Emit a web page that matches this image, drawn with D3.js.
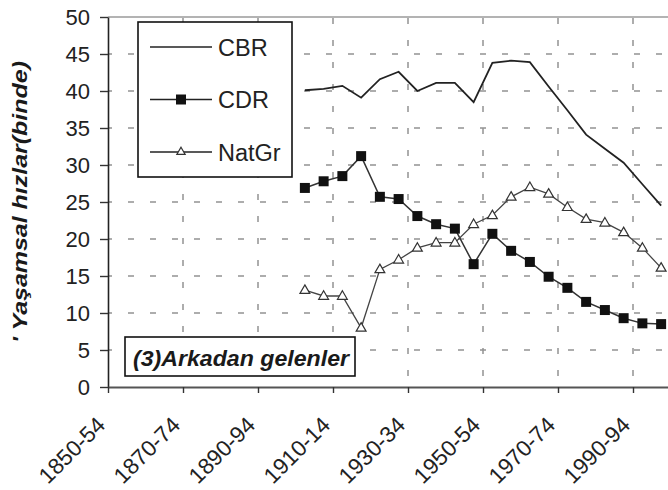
<!DOCTYPE html>
<html>
<head>
<meta charset="utf-8">
<script src="https://cdn.jsdelivr.net/npm/d3@7/dist/d3.min.js"></script>
<style>
  html, body { margin: 0; padding: 0; background: #fff; }
  svg { display: block; font-family: "Liberation Sans", Arial, sans-serif; }
</style>
</head>
<body>
<svg id="chart" width="668" height="490"></svg>
<script>
// ---- data ----
const categories = ["1850-54","1855-59","1860-64","1865-69","1870-74","1875-79","1880-84","1885-89",
  "1890-94","1895-99","1900-04","1905-09","1910-14","1915-19","1920-24","1925-29","1930-34","1935-39",
  "1940-44","1945-49","1950-54","1955-59","1960-64","1965-69","1970-74","1975-79","1980-84","1985-89",
  "1990-94","1995-99"];
const tickLabels = ["1850-54","1870-74","1890-94","1910-14","1930-34","1950-54","1970-74","1990-94"];
const seriesCategories = ["1900-04","1905-09","1910-14","1915-19","1920-24","1925-29","1930-34","1935-39",
  "1940-44","1945-49","1950-54","1955-59","1960-64","1965-69","1970-74","1975-79","1980-84","1985-89",
  "1990-94","1995-99"];
const cbr   = [40.1,40.3,40.7,39.1,41.6,42.6,40.0,41.1,41.1,38.5,43.8,44.1,43.9,40.6,37.4,34.1,32.2,30.3,27.4,24.5];
const cdr   = [26.9,27.8,28.5,31.2,25.7,25.4,23.1,22.0,21.4,16.6,20.7,18.4,16.9,14.9,13.4,11.5,10.4,9.3,8.6,8.5];
const natgr = [13.1,12.3,12.3,8.0,15.9,17.2,18.8,19.5,19.5,22.0,23.2,25.7,27.0,26.1,24.3,22.7,22.2,20.9,18.8,16.1];
const yTicks = [0,5,10,15,20,25,30,35,40,45,50];
const seriesNames = ["CBR","CDR","NatGr"];
const yTitle = "' Yaşamsal hızlar(binde)";
const noteText = "(3)Arkadan gelenler";

// ---- layout ----
const pLeft = 108, pTop = 17, pBottom = 387, pRight = 670.5;
const svg = d3.select("#chart");
const x = d3.scaleLinear().domain([0, categories.length]).range([pLeft, pRight]);
const y = d3.scaleLinear().domain([0, 50]).range([pBottom, pTop]);
const px = c => x(categories.indexOf(c) + 0.5);
const tickIdx = tickLabels.map(l => categories.indexOf(l));

// gridlines
const grid = svg.append("g");
grid.selectAll("line.h").data(yTicks.filter(v => v > 0 && v < 50)).enter().append("line")
  .attr("x1", pLeft).attr("x2", 668).attr("y1", d => y(d)).attr("y2", d => y(d))
  .attr("stroke", "#929292").attr("stroke-width", 1.5)
  .attr("stroke-dasharray", "6,16").attr("stroke-dashoffset", 2);
grid.selectAll("line.v").data(tickIdx.filter(i => i > 0)).enter().append("line")
  .attr("x1", d => x(d)).attr("x2", d => x(d)).attr("y1", pTop).attr("y2", pBottom)
  .attr("stroke", "#929292").attr("stroke-width", 1.5)
  .attr("stroke-dasharray", "6,16").attr("stroke-dashoffset", -1);
// top frame
svg.append("line").attr("x1", pLeft).attr("x2", 668).attr("y1", y(50)).attr("y2", y(50))
  .attr("stroke", "#9a9a9a").attr("stroke-width", 1.5);

// axes
const yAxis = svg.append("g").attr("transform", `translate(${pLeft},0)`)
  .call(d3.axisLeft(y).tickValues(yTicks).tickSize(8).tickSizeOuter(0).tickPadding(10));
yAxis.select(".domain").attr("stroke", "#222").attr("stroke-width", 1.6);
yAxis.selectAll(".tick line").attr("stroke", "#333").attr("stroke-width", 1.4);
yAxis.selectAll("text").attr("font-size", 22).attr("fill", "#222")
  .attr("font-family", "Liberation Sans, Arial, sans-serif");

const xAxis = svg.append("g").attr("transform", `translate(0,${pBottom})`)
  .call(d3.axisBottom(x).tickValues(tickIdx).tickSize(6).tickSizeOuter(0)
    .tickFormat(i => categories[i]));
xAxis.select(".domain").attr("stroke", "#555").attr("stroke-width", 2);
xAxis.selectAll(".tick line").attr("stroke", "#333").attr("stroke-width", 1.4);
xAxis.selectAll("text").attr("font-size", 22.5).attr("fill", "#222")
  .attr("font-family", "Liberation Sans, Arial, sans-serif")
  .attr("x", 0).attr("y", 0).attr("dy", 0)
  .attr("text-anchor", "end")
  .attr("transform", "translate(-2,39.5) rotate(-45)");

// y title
svg.append("text")
  .attr("transform", `translate(27,${pBottom - 44}) rotate(-90)`)
  .attr("font-size", 20).attr("font-weight", "bold").attr("font-style", "italic")
  .attr("fill", "#1a1a1a").attr("textLength", 282).attr("lengthAdjust", "spacingAndGlyphs")
  .text(yTitle);

// series
const lineGen = vals => d3.line().x((d, i) => px(seriesCategories[i])).y(d => y(d))(vals);
svg.append("path").attr("d", lineGen(cbr)).attr("fill", "none").attr("stroke", "#222").attr("stroke-width", 1.8);
svg.append("path").attr("d", lineGen(cdr)).attr("fill", "none").attr("stroke", "#333").attr("stroke-width", 1.5);
svg.append("path").attr("d", lineGen(natgr)).attr("fill", "none").attr("stroke", "#444").attr("stroke-width", 1.3);

const sq = d3.symbol().type(d3.symbolSquare).size(100);
svg.append("g").selectAll("path").data(cdr).enter().append("path")
  .attr("d", sq).attr("transform", (d, i) => `translate(${px(seriesCategories[i])},${y(d)})`)
  .attr("fill", "#111");
const tri = d3.symbol().type(d3.symbolTriangle).size(42);
svg.append("g").selectAll("path").data(natgr).enter().append("path")
  .attr("d", tri).attr("transform", (d, i) => `translate(${px(seriesCategories[i])},${y(d) + 0.5})`)
  .attr("fill", "#fff").attr("stroke", "#333").attr("stroke-width", 1.2);

// legend
const lg = svg.append("g");
lg.append("rect").attr("x", 138).attr("y", 22).attr("width", 154).attr("height", 155)
  .attr("fill", "#fff").attr("stroke", "#111").attr("stroke-width", 1.6);
seriesNames.forEach((name, i) => {
  const ly = 47 + i * 52.5;
  lg.append("line").attr("x1", 150).attr("x2", 212).attr("y1", ly).attr("y2", ly)
    .attr("stroke", "#222").attr("stroke-width", 1.5);
  if (i === 1) lg.append("path").attr("d", d3.symbol().type(d3.symbolSquare).size(100)())
    .attr("transform", `translate(181,${ly})`).attr("fill", "#111");
  if (i === 2) lg.append("path").attr("d", d3.symbol().type(d3.symbolTriangle).size(30)())
    .attr("transform", `translate(181,${ly})`).attr("fill", "#fff").attr("stroke", "#333").attr("stroke-width", 1.2);
  lg.append("text").attr("x", 218).attr("y", ly + 8.5).attr("font-size", 23.5).attr("fill", "#222")
    .text(name);
});

// note box
svg.append("rect").attr("x", 125).attr("y", 337).attr("width", 230).attr("height", 39)
  .attr("fill", "#fff").attr("stroke", "#111").attr("stroke-width", 1.6);
svg.append("text").attr("x", 133).attr("y", 366).attr("font-size", 22)
  .attr("font-weight", "bold").attr("font-style", "italic").attr("fill", "#1a1a1a")
  .attr("textLength", 216).attr("lengthAdjust", "spacingAndGlyphs")
  .text(noteText);
</script>
</body>
</html>
